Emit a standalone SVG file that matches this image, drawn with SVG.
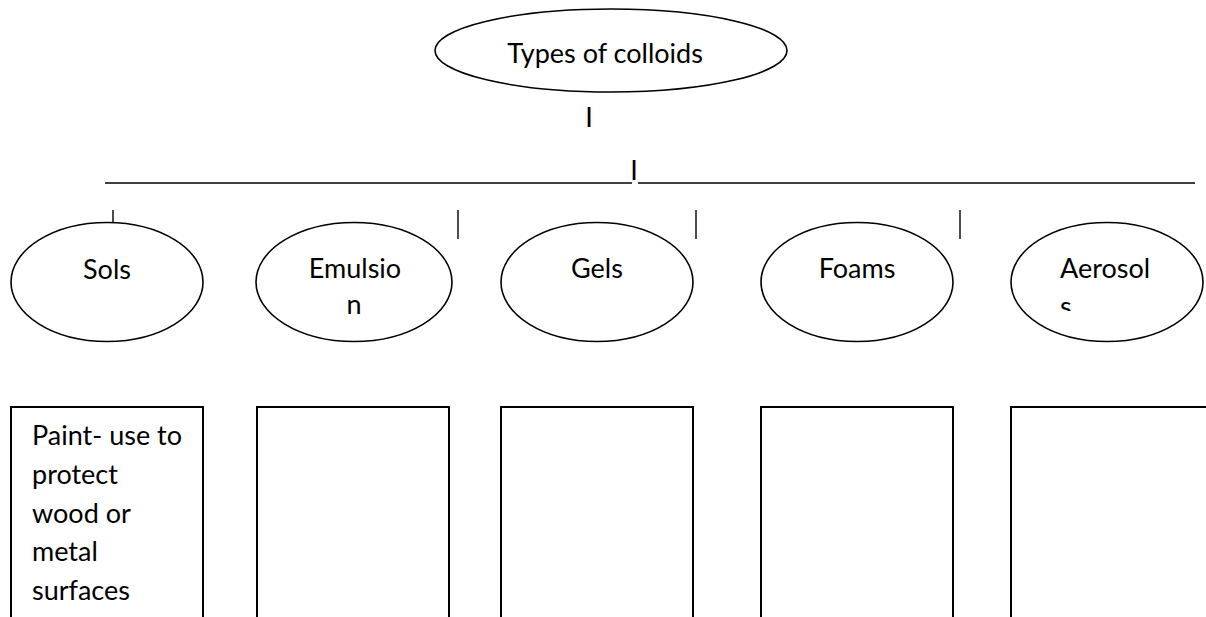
<svg xmlns="http://www.w3.org/2000/svg" width="1206" height="617" viewBox="0 0 1206 617">
<style>
.sh{fill:#fff;stroke:#000;stroke-width:1.6}
.bx{fill:none;stroke:#000;stroke-width:2}
.t{font-family:Lato,"Open Sans","Liberation Sans",sans-serif;font-size:27px;fill:#000}
.c{text-anchor:middle}
.ln{stroke:#000;stroke-width:1.4;fill:none}
</style>
<defs>
<clipPath id="clipA"><rect x="1000" y="240" width="206" height="71"/></clipPath>
</defs>
<rect width="1206" height="617" fill="#fff"/>
<g id="connectors">
<line class="ln" x1="105" y1="183" x2="632" y2="183"/>
<line class="ln" x1="638" y1="183" x2="1195" y2="183"/>
<line class="ln" x1="113" y1="210" x2="113" y2="223"/>
<line class="ln" x1="458" y1="210" x2="458" y2="239"/>
<line class="ln" x1="696" y1="210" x2="696" y2="239"/>
<line class="ln" x1="960" y1="210" x2="960" y2="239"/>
<text class="t c" x="589" y="127">I</text>
<text class="t c" x="634" y="180">I</text>
</g>
<g id="root">
<ellipse class="sh" cx="611" cy="50.5" rx="176" ry="41.5"/>
<text class="t c" x="605" y="63">Types of colloids</text>
</g>
<g id="sols">
<ellipse class="sh" cx="107" cy="282" rx="96" ry="59.5"/>
<text class="t c" x="107" y="279">Sols</text>
</g>
<g id="emulsion">
<ellipse class="sh" cx="354" cy="282" rx="98" ry="59.5"/>
<text class="t c" x="355" y="278">Emulsio</text>
<text class="t c" x="354" y="314">n</text>
</g>
<g id="gels">
<ellipse class="sh" cx="597" cy="282" rx="96" ry="59.5"/>
<text class="t c" x="597" y="278">Gels</text>
</g>
<g id="foams">
<ellipse class="sh" cx="857" cy="282" rx="96" ry="59.5"/>
<text class="t c" x="857" y="278">Foams</text>
</g>
<g id="aerosols">
<ellipse class="sh" cx="1107" cy="282" rx="96" ry="59.5"/>
<text class="t" x="1060" y="278">Aerosol</text>
<text class="t" x="1060" y="316" clip-path="url(#clipA)">s</text>
</g>
<g id="box-sols">
<path class="bx" d="M11,617 V407 H203 V617"/>
<text class="t" x="32" y="445">Paint- use to</text>
<text class="t" x="32" y="484">protect</text>
<text class="t" x="32" y="522.5">wood or</text>
<text class="t" x="32" y="561">metal</text>
<text class="t" x="32" y="600">surfaces</text>
</g>
<g id="box-emulsion">
<path class="bx" d="M257,617 V407 H449 V617"/>
</g>
<g id="box-gels">
<path class="bx" d="M501,617 V407 H693 V617"/>
</g>
<g id="box-foams">
<path class="bx" d="M761,617 V407 H953 V617"/>
</g>
<g id="box-aerosols">
<path class="bx" d="M1207,407 H1011 V617"/>
</g>
</svg>
